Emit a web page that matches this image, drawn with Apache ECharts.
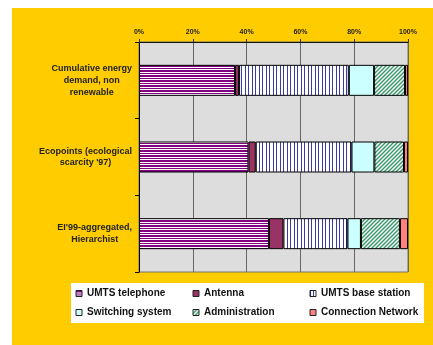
<!DOCTYPE html>
<html><head><meta charset="utf-8">
<script src="https://cdn.jsdelivr.net/npm/echarts@6/dist/echarts.min.js"></script>
<style>html,body{margin:0;padding:0;background:#fff}#c{width:433px;height:345px}</style>
</head><body><div id="c"></div>
<script>
const categories = ["Cumulative energy\ndemand, non\nrenewable", "Ecopoints (ecological\nscarcity '97)", "EI'99-aggregated,\nHierarchist"];
const umtsTelephone = [35.7, 40.7, 48.3];
const antenna = [1.5, 2.7, 5.4];
const umtsBaseStation = [40.8, 35.6, 23.8];
const switchingSystem = [9.4, 8.5, 5.0];
const administration = [11.5, 11.0, 14.5];
const connectionNetwork = [1.1, 1.5, 3.0];
const xTickMin = 0, xTickMax = 100, xTickStep = 20;

const FONT = 'Liberation Sans, Arial, sans-serif';

function tile(w, h, draw) {
  const c = document.createElement('canvas');
  c.width = w; c.height = h;
  const g = c.getContext('2d');
  g.fillStyle = '#FFFFFF'; g.fillRect(0, 0, w, h);
  draw(g);
  return { image: c, repeat: 'repeat' };
}
const hStripes = tile(4, 5, function (g) {
  g.fillStyle = '#800080';
  g.fillRect(0, 0, 4, 2); g.fillRect(0, 3, 4, 1);
});
const vStripes = tile(7, 4, function (g) {
  g.fillStyle = '#3A3AA8';
  g.fillRect(0, 0, 1, 4); g.fillRect(3, 0, 1, 4);
});
const diag = tile(4, 4, function (g) {
  g.strokeStyle = '#339966'; g.lineWidth = 1.4;
  g.beginPath();
  g.moveTo(-1, 5); g.lineTo(5, -1);
  g.moveTo(-1, 1); g.lineTo(1, -1);
  g.moveTo(3, 5); g.lineTo(5, 3);
  g.stroke();
});

function mk(name, data, color) {
  return {
    name: name, type: 'bar', stack: 'all', data: data, barWidth: 31,
    itemStyle: { color: color, borderColor: '#000', borderWidth: 1 },
    emphasis: { disabled: true }
  };
}

const chart = echarts.init(document.getElementById('c'), null, { renderer: 'canvas' });
const legendBase = {
  orient: 'vertical', itemWidth: 6, itemHeight: 6, itemGap: 7, icon: 'rect', selectedMode: false, padding: 0,
  itemStyle: { borderWidth: 1, borderColor: '#222' },
  textStyle: { fontFamily: FONT, fontSize: 10, fontWeight: 'bold', color: '#111', lineHeight: 12 },
  top: 287.5
};
chart.setOption({
  animation: false,
  backgroundColor: '#fff',
  graphic: [
    { type: 'rect', shape: { x: 12, y: 8, width: 421, height: 337 }, style: { fill: '#FFCC00' }, z: -100, silent: true },
    { type: 'rect', shape: { x: 71, y: 283, width: 353, height: 40 }, style: { fill: '#FFFFFF' }, z: -90, silent: true }
  ],
  grid: { left: 139, right: 25, top: 42, bottom: 73, show: true, backgroundColor: '#DDDDDD', borderColor: '#707070', borderWidth: 1 },
  xAxis: {
    type: 'value', position: 'top', min: xTickMin, max: xTickMax, interval: xTickStep,
    axisLine: { show: true, lineStyle: { color: '#111', width: 1 } },
    axisTick: { show: true, length: 3, lineStyle: { color: '#333' } },
    axisLabel: { formatter: '{value}%', fontFamily: FONT, fontSize: 7, fontWeight: 'bold', color: '#222', margin: 6 },
    splitLine: { show: true, lineStyle: { color: '#666666', width: 1 } }
  },
  yAxis: {
    type: 'category', inverse: true, data: categories,
    axisLine: { show: true, lineStyle: { color: '#000', width: 1 } },
    axisTick: { show: true, length: 4, lineStyle: { color: '#000' } },
    splitLine: { show: false },
    axisLabel: {
      align: 'right', margin: 7,
      formatter: function (v) { return v.split('\n').map(function (s) { return '{c|' + s + '}'; }).join('\n'); },
      rich: { c: { align: 'center', fontFamily: FONT, fontSize: 9, fontWeight: 'bold', color: '#222', lineHeight: 11.7 } }
    }
  },
  legend: [
    Object.assign({}, legendBase, { left: 75.5, data: ['UMTS telephone', 'Switching system'] }),
    Object.assign({}, legendBase, { left: 192.5, data: ['Antenna', 'Administration'] }),
    Object.assign({}, legendBase, { left: 309.5, data: ['UMTS base station', 'Connection Network'] })
  ],
  series: [
    mk('UMTS telephone', umtsTelephone, hStripes),
    mk('Antenna', antenna, '#993366'),
    mk('UMTS base station', umtsBaseStation, vStripes),
    mk('Switching system', switchingSystem, '#CCFFFF'),
    mk('Administration', administration, diag),
    mk('Connection Network', connectionNetwork, '#FF8080')
  ]
});
</script></body></html>
